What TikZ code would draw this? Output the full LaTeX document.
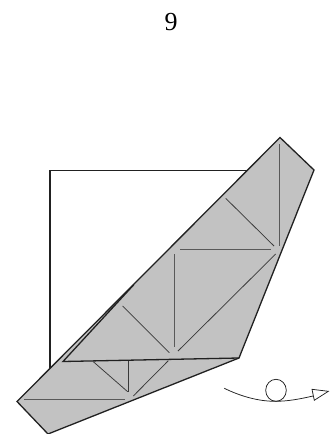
\documentclass[tikz,border=0pt]{standalone}
\usepackage{fontspec}
\setmainfont{Liberation Serif}
\definecolor{paper}{gray}{0.76}
\definecolor{ink}{gray}{0.13}
\definecolor{foldgrey}{gray}{0.35}
\tikzset{
  outline/.style={draw=ink,line width=1.3pt,line join=miter},
  crease/.style={draw=ink!85!paper,line width=0.75pt},
  creasepale/.style={draw=foldgrey,line width=1pt},
  thin/.style={draw=ink,line width=0.75pt}
}
\begin{document}
\begin{tikzpicture}[x=1pt,y=-1pt]
\useasboundingbox (0,0) rectangle (331,434);
\clip (0,0) rectangle (331,434);
\node[font=\fontsize{26}{26}\selectfont,inner sep=0pt] (pagenum) at (171,22) {9};
% square behind
\draw[outline,line width=1.15pt] (50,368) -- (50,170.5) -- (247.5,170.5);
% folded paper
\path[fill=paper,outline] (17,401.5) -- (280,137.5) -- (314,170) -- (239,358) -- (48,434) -- cycle;
% front flap
\draw[outline,line join=miter] (134,284.5) -- (63,361.5) -- (239,358);
% creases
\draw[creasepale] (279.3,144) -- (279.3,246);
\draw[crease] (225.7,198.3) -- (274,246);
\draw[creasepale] (180,249) -- (271,249);
\draw[crease] (275.7,254) -- (178,351);
\draw[creasepale] (174,254) -- (174,347);
\draw[crease] (122.7,306) -- (169.3,352.7);
\draw[crease] (93.3,361.7) -- (127.7,391.7);
\draw[crease] (128.3,361) -- (128.3,391.7);
\draw[crease] (133.3,396) -- (168.3,360.7);
\draw[creasepale] (24,399.7) -- (125,399.7);
% turn-over symbol
\draw[thin] (224.3,388.3) .. controls (240,396) and (258,401.3) .. (275,401.3) .. controls (288,401.3) and (300,399) .. (313,396);
\draw[thin] (276,390.3) ellipse [x radius=10.3,y radius=11];
\draw[thin,fill=white,line join=miter] (312,389.3) -- (328.3,391.3) -- (314.3,400.3) -- cycle;
\end{tikzpicture}
\end{document}
